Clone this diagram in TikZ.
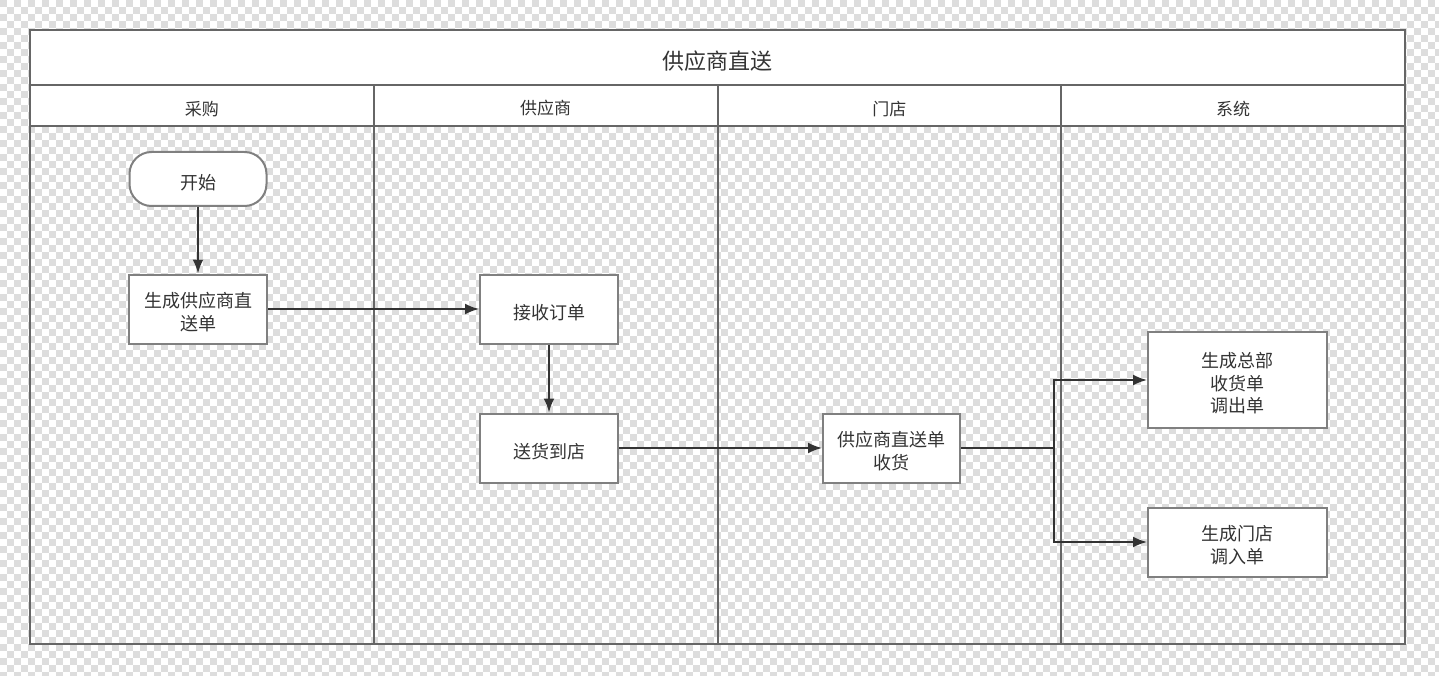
\documentclass[tikz,border=0pt]{standalone}
\usepackage{fontspec}
\setmainfont{Noto Sans CJK SC}
\usepackage{tikz}
\usetikzlibrary{arrows.meta, positioning}
\definecolor{frame}{RGB}{102, 102, 102}
\definecolor{boxline}{RGB}{128, 128, 128}
\definecolor{ink}{RGB}{51, 51, 51}
\definecolor{checker}{RGB}{221, 221, 221}
\newcommand{\lift}{\rule{0pt}{1.2em}}

\begin{document}
\begin{tikzpicture}[
    x=1pt, y=-1pt,
    lowtext/.style={execute at begin node={\lift}},
    lane/.style={rectangle, draw=frame, line width=2pt, minimum width=343.75pt, inner sep=0pt, outer sep=0pt},
    header/.style={lane, fill=white, minimum height=41pt, font=\fontsize{17}{21}\selectfont, text=ink, lowtext},
    block/.style={rectangle, draw=boxline, fill=white, line width=2pt, minimum width=138pt, minimum height=69pt, inner sep=2pt, align=center, font=\fontsize{18}{22.5}\selectfont, text=ink},
    startblock/.style={block, rounded corners=22pt, minimum height=54pt},
    arrow/.style={-{Latex[length=14pt,width=11pt]}, line width=2pt, color=ink}
]
    % Background
    \path[use as bounding box] (0,0) rectangle (1439,676);
    \fill[white] (0,0) rectangle (1439,676);
    \begin{scope}
        \clip (0,0) rectangle (1439,676);
        \foreach \r in {0,...,96} {
            \pgfmathsetmacro{\ph}{mod(\r,2)*7}
            \draw[checker, line width=7pt, dash pattern=on 7pt off 7pt, dash phase=\ph pt] (0,\r*7+3.5) -- (1439,\r*7+3.5);
        }
    \end{scope}

    % Lanes
    \node[lane, minimum height=518pt] (buyBody) at (201.875,385) {};
    \node[lane, minimum height=518pt] (supBody) at (545.625,385) {};
    \node[lane, minimum height=518pt] (shopBody) at (889.375,385) {};
    \node[lane, minimum height=518pt] (sysBody) at (1233.125,385) {};
    \node[header] (buy) at (201.875,105.5) {采购};
    \node[header] (sup) at (545.625,105.5) {供应商};
    \node[header] (shop) at (889.375,105.5) {门店};
    \node[header] (sys) at (1233.125,105.5) {系统};
    \node[lane, fill=white, minimum width=1375pt, minimum height=55pt, font=\fontsize{22}{26}\selectfont, text=ink, lowtext] (title) at (717.5,57.5) {供应商直送};

    % Process Nodes
    \node[startblock, minimum width=137pt] (start) at (198,179) {\lift 开始};
    \node[block] (gen) at (198,309) {\lift 生成供应商直\\送单};
    \node[block] (recv) at (549,309) {\lift 接收订单};
    \node[block] (send) at (549,448) {\lift 送货到店};
    \node[block, minimum width=137pt] (acpt) at (891.5,448) {\lift 供应商直送单\\收货};
    \node[block, minimum width=179pt, minimum height=96pt] (hq) at (1237.5,380) {\lift 生成总部\\收货单\\调出单};
    \node[block, minimum width=179pt] (store) at (1237.5,542) {\lift 生成门店\\调入单};
    \coordinate (split) at (1054,448);

    % Arrows
    \draw[arrow] (start) -- (gen);
    \draw[arrow] (gen) -- (recv);
    \draw[arrow] (recv) -- (send);
    \draw[arrow] (send) -- (acpt);
    \draw[arrow] (acpt) -- (split) |- (hq);
    \draw[arrow] (acpt) -- (split) |- (store);
\end{tikzpicture}
\end{document}
